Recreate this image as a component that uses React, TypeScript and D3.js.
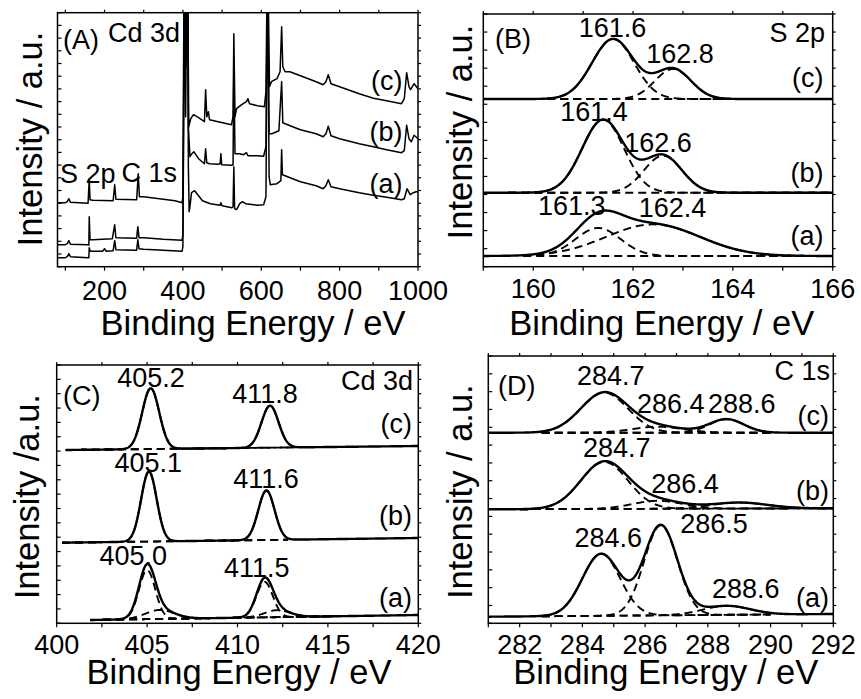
import React from "react";
import * as d3 from "d3";

const FONT = "'Liberation Sans', Arial, Helvetica, sans-serif";

type Pt = [number, number];

// Wide-scan survey spectra: [binding energy (eV), intensity (a.u.)]
const surveyA: Pt[] = [
  [80, 9], [100, 9], [105, 10], [109, 13], [113, 10], [158, 9], [160, 9], [161, 19], [163, 16],
  [166, 15.5], [195, 15.5], [200, 18], [204, 15.5], [222, 16], [226, 26], [229, 17], [282, 16.5],
  [285, 27], [288, 18], [300, 17.5], [350, 16.5], [398, 15.5], [400, 20], [403, 200], [405, 300],
  [407, 150], [410, 300], [412, 300], [414, 100], [416, 55], [418, 60], [422, 74], [430, 76],
  [440, 71], [450, 66], [470, 63], [495, 61.5], [497, 64], [500, 61], [525, 59], [528, 60],
  [530, 100], [532, 58], [537, 57], [545, 63], [552, 65], [560, 63], [590, 61.5], [606, 62],
  [612, 70], [616, 300], [620, 90], [623, 82], [640, 83], [650, 86], [652, 117], [654, 92],
  [661, 91], [680, 88], [700, 85], [740, 81], [758, 78], [765, 81], [771, 87], [778, 80],
  [800, 78], [850, 74], [886, 71.5], [920, 69.5], [958, 67], [965, 68], [972, 78], [980, 72],
  [988, 74], [995, 75], [1000, 75],
];

const surveyB: Pt[] = [
  [80, 22], [100, 22], [105, 23], [109, 26], [113, 22.5], [158, 22], [160, 21.5], [161, 50],
  [163, 27], [170, 27], [220, 28], [226, 42], [229, 29], [282, 28.5], [285, 40], [288, 29],
  [300, 29], [350, 27.5], [398, 26.5], [400, 32], [403, 250], [405, 320], [408, 200], [412, 320],
  [414, 140], [418, 110], [423, 113], [428, 115], [440, 108], [455, 103], [458, 118], [461, 104],
  [468, 103], [490, 102.5], [495, 103], [497, 113], [499, 102], [525, 101.5], [528, 102],
  [530, 200], [533, 113], [545, 113], [555, 112], [562, 114], [566, 111], [590, 111],
  [606, 110.5], [612, 120], [616, 320], [620, 133], [627, 133], [645, 136], [652, 185],
  [655, 144], [661, 143], [680, 140], [700, 137], [740, 133], [758, 130], [765, 133],
  [771, 140.5], [778, 131], [800, 128], [850, 123], [886, 120], [920, 117], [958, 114],
  [965, 116], [971, 141.5], [977, 128], [983, 125], [990, 131.5], [1000, 128],
];

const surveyC: Pt[] = [
  [80, 64], [100, 64], [105, 65], [109, 68], [113, 64.5], [158, 63.5], [161, 88], [163, 67],
  [170, 66.5], [222, 66], [226, 82], [229, 67.5], [282, 67], [286, 93], [289, 70], [300, 70],
  [340, 68], [380, 66], [398, 64], [400, 70], [403, 300], [405, 320], [408, 220], [411, 320],
  [413, 250], [415, 140], [420, 148], [427, 152], [440, 149], [455, 145], [458, 177], [461, 150],
  [465, 155], [468, 147], [490, 145], [524, 142], [528, 150], [530, 233], [533, 150], [537, 158],
  [550, 162], [562, 165], [566, 168], [570, 163], [590, 161], [608, 160], [612, 175], [616, 330],
  [621, 180], [626, 185], [640, 188], [648, 195], [652, 240], [655, 200], [661, 195], [673, 195],
  [700, 191], [740, 185], [758, 182], [765, 185], [771, 192], [778, 183], [800, 180], [850, 173],
  [886, 168.5], [920, 166], [958, 163], [965, 168], [971, 194], [977, 180], [981, 177],
  [990, 183], [1000, 178],
];

// Fitted peak components: centre (eV), height (a.u.), gaussian sigma (eV)
type Peak = { center: number; height: number; sigma: number };
type Fit = {
  range: [number, number];
  compRange: [number, number];
  baseline: [number, number];
  peaks: Peak[];
};

const s2pFitA: Fit = {
  range: [159, 166], compRange: [159.8, 166], baseline: [10.7, 10.7],
  peaks: [{ center: 161.3, height: 28, sigma: 0.45 }, { center: 162.4, height: 31.6, sigma: 0.94 }],
};
const s2pFitB: Fit = {
  range: [159, 166], compRange: [159.5, 166], baseline: [74, 74],
  peaks: [{ center: 161.4, height: 73, sigma: 0.42 }, { center: 162.6, height: 37, sigma: 0.38 }],
};
const s2pFitC: Fit = {
  range: [159, 166], compRange: [159.5, 166], baseline: [167.7, 167.7],
  peaks: [{ center: 161.6, height: 60, sigma: 0.42 }, { center: 162.8, height: 30, sigma: 0.36 }],
};

const cd3dFitA: Fit = {
  range: [401.85, 420], compRange: [401.85, 415.3], baseline: [3.3, 8.3],
  peaks: [
    { center: 405.0, height: 49, sigma: 0.45 }, { center: 405.7, height: 9, sigma: 0.8 },
    { center: 411.5, height: 35.5, sigma: 0.45 }, { center: 412.2, height: 7, sigma: 0.7 },
  ],
};
const cd3dFitB: Fit = {
  range: [400.3, 420], compRange: [400.3, 412.8], baseline: [80.6, 85.3],
  peaks: [{ center: 405.1, height: 70, sigma: 0.43 }, { center: 411.6, height: 49.5, sigma: 0.45 }],
};
const cd3dFitC: Fit = {
  range: [400.5, 420], compRange: [400.5, 413.2], baseline: [173.3, 177.3],
  peaks: [{ center: 405.2, height: 60.7, sigma: 0.47 }, { center: 411.8, height: 42, sigma: 0.47 }],
};

const c1sFitA: Fit = {
  range: [281, 292], compRange: [282.7, 290], baseline: [6.6, 9.3],
  peaks: [
    { center: 284.6, height: 62, sigma: 0.6 }, { center: 286.5, height: 90, sigma: 0.53 },
    { center: 288.6, height: 9, sigma: 0.75 },
  ],
};
const c1sFitB: Fit = {
  range: [281, 292], compRange: [282, 292], baseline: [114, 115],
  peaks: [
    { center: 284.7, height: 47, sigma: 0.75 }, { center: 286.4, height: 8, sigma: 0.8 },
    { center: 289.0, height: 6, sigma: 0.9 },
  ],
};
const c1sFitC: Fit = {
  range: [281, 292], compRange: [282.7, 290], baseline: [190.6, 190.6],
  peaks: [
    { center: 284.7, height: 40, sigma: 0.75 }, { center: 286.4, height: 6, sigma: 0.8 },
    { center: 288.6, height: 13.5, sigma: 0.55 },
  ],
};

// Axis ticks
const surveyTicks = [200, 400, 600, 800, 1000];
const s2pTicks = [160, 162, 164, 166];
const cd3dTicks = [400, 405, 410, 415, 420];
const c1sTicks = [282, 284, 286, 288, 290, 292];

type Label = { text: string; x: number; y: number; anchor?: "start" | "middle" | "end" };

type PanelSpec = {
  key: string;
  frame: { x0: number; x1: number; y0: number; y1: number };
  xDomain: [number, number];
  yMax: number;
  xTicks: number[];
  xMinor: number;
  yDivisions: number;
  tickLabelY: number;
  xTitle: { x: number; y: number };
  yTitle: { text: string; x: number; y: number };
  labels: Label[];
  survey?: Pt[][];
  fits?: Fit[];
};

const panels: PanelSpec[] = [
  {
    key: "A",
    frame: { x0: 57.5, x1: 418, y0: 12.7, y1: 266.7 },
    xDomain: [80, 1000], yMax: 254,
    xTicks: surveyTicks, xMinor: 100, yDivisions: 20,
    tickLabelY: 300,
    xTitle: { x: 253, y: 335 },
    yTitle: { text: "Intensity / a.u.", x: 41.7, y: 139 },
    labels: [
      { text: "(A)", x: 63, y: 49 },
      { text: "Cd 3d", x: 108, y: 42 },
      { text: "S 2p", x: 60, y: 183 },
      { text: "C 1s", x: 121.5, y: 182 },
      { text: "(c)", x: 402.5, y: 90, anchor: "end" },
      { text: "(b)", x: 402.5, y: 141, anchor: "end" },
      { text: "(a)", x: 402.5, y: 193, anchor: "end" },
    ],
    survey: [surveyA, surveyB, surveyC],
  },
  {
    key: "B",
    frame: { x0: 483.3, x1: 832.7, y0: 14, y1: 266.7 },
    xDomain: [159, 166], yMax: 252.7,
    xTicks: s2pTicks, xMinor: 1, yDivisions: 14,
    tickLabelY: 298.3,
    xTitle: { x: 661.7, y: 335 },
    yTitle: { text: "Intensity / a.u.", x: 471.7, y: 132 },
    labels: [
      { text: "(B)", x: 495, y: 48 },
      { text: "S 2p", x: 825, y: 41.7, anchor: "end" },
      { text: "161.6", x: 612.5, y: 36.7, anchor: "middle" },
      { text: "162.8", x: 680, y: 63.3, anchor: "middle" },
      { text: "(c)", x: 823.5, y: 86.7, anchor: "end" },
      { text: "161.4", x: 594, y: 120.7, anchor: "middle" },
      { text: "162.6", x: 658, y: 151.7, anchor: "middle" },
      { text: "(b)", x: 823.5, y: 181.7, anchor: "end" },
      { text: "161.3", x: 571.7, y: 215, anchor: "middle" },
      { text: "162.4", x: 672.5, y: 216.7, anchor: "middle" },
      { text: "(a)", x: 823.5, y: 245, anchor: "end" },
    ],
    fits: [s2pFitA, s2pFitB, s2pFitC],
  },
  {
    key: "C",
    frame: { x0: 56.7, x1: 418.3, y0: 365, y1: 623.3 },
    xDomain: [400, 420], yMax: 258.3,
    xTicks: cd3dTicks, xMinor: 2.5, yDivisions: 18,
    tickLabelY: 654,
    xTitle: { x: 239, y: 684 },
    yTitle: { text: "Intensity /a.u.", x: 39.3, y: 496.7 },
    labels: [
      { text: "(C)", x: 63, y: 405 },
      { text: "405.2", x: 151, y: 386.7, anchor: "middle" },
      { text: "Cd 3d", x: 413, y: 390, anchor: "end" },
      { text: "411.8", x: 265, y: 403.3, anchor: "middle" },
      { text: "(c)", x: 412, y: 433.3, anchor: "end" },
      { text: "405.1", x: 148.3, y: 471.7, anchor: "middle" },
      { text: "411.6", x: 266, y: 488.3, anchor: "middle" },
      { text: "(b)", x: 412, y: 525, anchor: "end" },
      { text: "405.0", x: 133.3, y: 565, anchor: "middle" },
      { text: "411.5", x: 256.7, y: 577.3, anchor: "middle" },
      { text: "(a)", x: 412, y: 606.7, anchor: "end" },
    ],
    fits: [cd3dFitA, cd3dFitB, cd3dFitC],
  },
  {
    key: "D",
    frame: { x0: 488.3, x1: 833.3, y0: 356, y1: 623.3 },
    xDomain: [281, 292], yMax: 267.3,
    xTicks: c1sTicks, xMinor: 1, yDivisions: 15,
    tickLabelY: 654,
    xTitle: { x: 665.8, y: 684 },
    yTitle: { text: "Intensity / a.u.", x: 471.7, y: 491.7 },
    labels: [
      { text: "(D)", x: 498, y: 395 },
      { text: "C 1s", x: 830, y: 380, anchor: "end" },
      { text: "284.7", x: 610.8, y: 385, anchor: "middle" },
      { text: "286.4", x: 670.8, y: 413.3, anchor: "middle" },
      { text: "288.6", x: 741.7, y: 413.3, anchor: "middle" },
      { text: "(c)", x: 829, y: 425, anchor: "end" },
      { text: "284.7", x: 616.7, y: 456.7, anchor: "middle" },
      { text: "286.4", x: 685, y: 493.3, anchor: "middle" },
      { text: "(b)", x: 829, y: 500, anchor: "end" },
      { text: "286.5", x: 714, y: 533.3, anchor: "middle" },
      { text: "284.6", x: 608.3, y: 546.7, anchor: "middle" },
      { text: "288.6", x: 745.8, y: 598.3, anchor: "middle" },
      { text: "(a)", x: 829, y: 606.7, anchor: "end" },
    ],
    fits: [c1sFitA, c1sFitB, c1sFitC],
  },
];

const gauss = (x: number, p: Peak) =>
  p.height * Math.exp(-((x - p.center) ** 2) / (2 * p.sigma * p.sigma));

function baselineAt(fit: Fit, x: number) {
  const [r0, r1] = fit.range;
  const [b0, b1] = fit.baseline;
  return b0 + ((b1 - b0) * (x - r0)) / (r1 - r0);
}

function sampleGrid(a: number, b: number, n = 500) {
  return d3.range(n + 1).map((i) => a + ((b - a) * i) / n);
}

function Panel({ spec }: { spec: PanelSpec }) {
  const { frame } = spec;
  const xs = d3.scaleLinear().domain(spec.xDomain).range([frame.x0, frame.x1]);
  const ys = d3.scaleLinear().domain([0, spec.yMax]).range([frame.y1, frame.y0]);
  const line = d3
    .line<Pt>()
    .x((d) => xs(d[0]))
    .y((d) => ys(d[1]));
  const clipId = `clip-${spec.key}`;

  const minorTicks = d3
    .range(
      Math.ceil(spec.xDomain[0] / spec.xMinor) * spec.xMinor,
      spec.xDomain[1] + 1e-6,
      spec.xMinor
    )
    .filter((v) => v >= spec.xDomain[0] - 1e-6);
  const yTickPos = d3.range(spec.yDivisions + 1).map((i) => ys((spec.yMax * i) / spec.yDivisions));

  const fitPaths: { d: string; dashed: boolean }[] = [];
  (spec.fits || []).forEach((fit) => {
    const comp = sampleGrid(fit.compRange[0], fit.compRange[1]);
    // background under the components
    fitPaths.push({ d: line(comp.map((x) => [x, baselineAt(fit, x)] as Pt)) || "", dashed: true });
    fit.peaks.forEach((p) => {
      fitPaths.push({
        d: line(comp.map((x) => [x, baselineAt(fit, x) + gauss(x, p)] as Pt)) || "",
        dashed: true,
      });
    });
    const full = sampleGrid(fit.range[0], fit.range[1], 700);
    fitPaths.push({
      d:
        line(
          full.map((x) => [x, baselineAt(fit, x) + d3.sum(fit.peaks, (p) => gauss(x, p))] as Pt)
        ) || "",
      dashed: false,
    });
  });

  return (
    <g>
      <defs>
        <clipPath id={clipId}>
          <rect x={frame.x0} y={frame.y0} width={frame.x1 - frame.x0} height={frame.y1 - frame.y0} />
        </clipPath>
      </defs>
      <g clipPath={`url(#${clipId})`} fill="none" stroke="#000">
        {(spec.survey || []).map((s, i) => (
          <path key={i} d={line(s) || ""} strokeWidth={1.5} strokeLinejoin="round" />
        ))}
        {fitPaths
          .filter((p) => p.dashed)
          .map((p, i) => (
            <path key={`d${i}`} d={p.d} strokeWidth={1.9} strokeDasharray="8 5" />
          ))}
        {fitPaths
          .filter((p) => !p.dashed)
          .map((p, i) => (
            <path key={`s${i}`} d={p.d} strokeWidth={2.4} strokeLinejoin="round" />
          ))}
      </g>
      <rect
        x={frame.x0}
        y={frame.y0}
        width={frame.x1 - frame.x0}
        height={frame.y1 - frame.y0}
        fill="none"
        stroke="#000"
        strokeWidth={1.5}
      />
      <g stroke="#000" strokeWidth={1.2}>
        {minorTicks.map((v) => (
          <g key={v}>
            <line x1={xs(v)} x2={xs(v)} y1={frame.y1} y2={frame.y1 + 4} />
            <line x1={xs(v)} x2={xs(v)} y1={frame.y0} y2={frame.y0 - 3} />
          </g>
        ))}
        {yTickPos.map((y, i) => (
          <g key={`y${i}`}>
            <line x1={frame.x0} x2={frame.x0 + 4} y1={y} y2={y} />
            <line x1={frame.x1} x2={frame.x1 + 3} y1={y} y2={y} />
          </g>
        ))}
      </g>
      <g fontFamily={FONT} fontSize={27} fill="#000" textAnchor="middle">
        {spec.xTicks.map((v) => (
          <text key={v} x={xs(v)} y={spec.tickLabelY}>
            {v}
          </text>
        ))}
      </g>
      <text
        x={spec.xTitle.x}
        y={spec.xTitle.y}
        fontFamily={FONT}
        fontSize={34.5}
        textAnchor="middle"
        fill="#000"
      >
        Binding Energy / eV
      </text>
      <text
        transform={`translate(${spec.yTitle.x},${spec.yTitle.y}) rotate(-90)`}
        fontFamily={FONT}
        fontSize={34.5}
        textAnchor="middle"
        fill="#000"
      >
        {spec.yTitle.text}
      </text>
      <g fontFamily={FONT} fontSize={27} fill="#000">
        {spec.labels.map((l, i) => (
          <text key={i} x={l.x} y={l.y} textAnchor={l.anchor || "start"}>
            {l.text}
          </text>
        ))}
      </g>
    </g>
  );
}

export default function App() {
  return (
    <svg
      width={861}
      height={699}
      viewBox="0 0 861 699"
      style={{ position: "absolute", left: 0, top: 0, background: "#fff" }}
    >
      <rect width={861} height={699} fill="#fff" />
      {panels.map((p) => (
        <Panel key={p.key} spec={p} />
      ))}
    </svg>
  );
}
